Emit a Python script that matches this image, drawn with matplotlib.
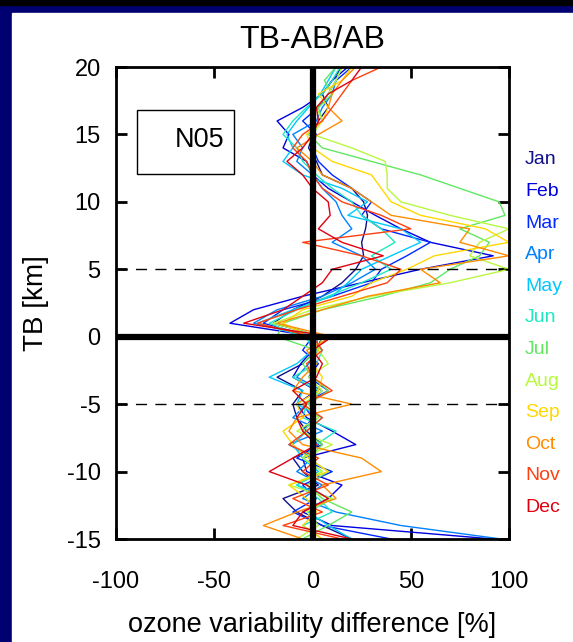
import matplotlib
matplotlib.use("Agg")
import matplotlib.pyplot as plt
from matplotlib.patches import Rectangle

plt.rcParams['font.family'] = ['Liberation Sans', 'DejaVu Sans']
plt.rcParams['axes.unicode_minus'] = False

heights = list(range(-15, 21))

months = ["Jan", "Feb", "Mar", "Apr", "May", "Jun",
          "Jul", "Aug", "Sep", "Oct", "Nov", "Dec"]
month_colors = ["#10108c", "#0000e0", "#0028ff", "#0080ff", "#00c8ff", "#20e8c0",
                "#60e860", "#b8f840", "#ffd800", "#ff8c00", "#ff4010", "#e00010"]

# ozone variability difference [%] at TB = -15 .. 20 km
jan = [20, 5, -8, -15, 3, -5, -10, 5, -3, -8, -10, -5, -18, -5, 2, 5, -20, -10,
       5, 15, 22, 26, 25, 27, 28, 26, 20, 5, 2, -2, 0, 3, 8, 5, 10, 15]
feb = [92, 10, -5, 8, 15, -3, -5, 22, 10, -3, -8, 2, -10, -6, 0, 2, -42, -30,
       -5, 25, 55, 92, 60, 45, 32, 20, 8, 0, -3, -15, -12, -18, -5, 5, 10, 18]
mar = [40, 5, -10, 2, -5, 10, -8, 3, -5, 0, -5, 8, -2, 3, -5, 0, -25, -15,
       10, 30, 35, 48, 60, 35, 25, 30, 20, 10, 3, 0, 2, -5, 3, 8, 12, 20]
apr = [96, 45, 12, -5, 5, -8, 0, -12, 5, -10, -3, 5, -8, -2, 3, 2, -30, -18,
       5, 20, 32, 25, 10, 20, 15, 12, 5, 0, -8, -5, -10, 2, 5, 10, 12, 15]
may = [20, 8, -2, 10, -8, 3, -5, -10, -3, 5, -8, -5, -22, -8, 0, -3, -28, -10,
       10, 18, 25, 40, 55, 45, 18, 28, 15, -5, -15, -10, -13, -8, -2, 4, 8, 12]
jun = [5, -5, 10, 3, -8, 5, -5, 2, 12, -5, -3, 3, -10, 2, 5, -5, -22, -8,
       8, 25, 40, 30, 42, 35, 25, 20, 10, 2, -5, -8, -15, -10, -3, 5, 10, 14]
jul = [-5, 8, 20, 5, -3, 8, -2, 5, -5, 3, -2, 8, 0, -5, 2, -18, -15, 5,
       35, 60, 70, 85, 90, 75, 98, 95, 75, 55, 30, 5, -2, 5, 3, 10, 6, 12]
aug = [-8, 3, -3, 10, -12, 5, -5, 10, -8, 3, -5, 5, -2, 8, 3, 5, -20, 0,
       30, 70, 100, 80, 85, 100, 70, 45, 38, 38, 37, 20, 0, 5, 2, 8, 12, 15]
sep = [5, -5, 2, -3, -12, 8, -2, -10, -15, -5, -8, 3, 5, 0, 3, -2, -15, -5,
       20, 30, 48, 62, 100, 88, 55, 40, 35, 30, 10, 0, -3, 5, 8, 3, 15, 20]
oct_ = [-5, -25, -8, 12, 5, 35, 25, -5, -12, -8, 20, -10, -5, 2, -3, 10, -18, 5,
        28, 65, 55, 100, 75, 80, 40, 30, 20, 5, 0, -8, 3, 15, 8, 10, 15, 22]
nov = [15, -15, 5, -10, 8, -5, 3, -12, -3, 5, -5, 10, 0, -3, 5, 0, -28, -8,
       15, 38, 45, 25, -5, 50, 35, 15, 5, 0, -3, -10, -5, 5, 10, 15, 20, 35]
dec = [20, -10, -5, 8, -3, -22, -10, 2, -5, -8, -3, -10, 2, 5, 0, 10, -35, -15,
       -5, 5, 10, 36, 15, 3, 9, 8, 0, -5, -13, -5, 0, 3, 2, 8, 20, 25]

profiles = [jan, feb, mar, apr, may, jun, jul, aug, sep, oct_, nov, dec]

fig = plt.figure(figsize=(5.73, 6.42), dpi=100, facecolor="#000070")
fig.patches.append(Rectangle((12 / 573, 0), 1, (642 - 13) / 642,
                             transform=fig.transFigure, color="white", zorder=-10))
fig.patches.append(Rectangle((0, (642 - 5) / 642), 1, 5 / 642,
                             transform=fig.transFigure, color="black", zorder=-10))

ax = fig.add_axes([116 / 573, (642 - 539) / 642, 393 / 573, 472 / 642])

for prof, col in zip(profiles, month_colors):
    ax.plot(prof, heights, color=col, lw=1.0, clip_on=True)

ax.axvline(0, color="black", lw=4.5, zorder=5)
ax.axhline(0, color="black", lw=4.5, zorder=5)
for h in [5, -5]:
    ax.axhline(h, color="black", lw=1, ls=(0, (8, 6)), zorder=5)

ax.set_xlim(-100, 100)
ax.set_ylim(-15, 20)
ax.set_xticks([-100, -50, 0, 50, 100])
ax.set_yticks([-15, -10, -5, 0, 5, 10, 15, 20])
ax.tick_params(direction="in", length=8, width=2, top=True, right=True,
               labelsize=17, pad=11)
ax.tick_params(axis="x", pad=23)
for s in ax.spines.values():
    s.set_linewidth(2)

ax.set_title("TB-AB/AB", fontsize=23, pad=14)
ax.set_xlabel("ozone variability difference [%]", fontsize=19.5, labelpad=14)
ax.set_ylabel("TB [km]", fontsize=20, labelpad=13)

ax.add_patch(Rectangle((-89.3, 12.1), 49.3, 4.7, fill=False, ec="black", lw=1, zorder=6))
ax.text(-57.5, 14.6, "N05", fontsize=19.5, ha="center", va="center", zorder=6)

for i, (m, col) in enumerate(zip(months, month_colors)):
    fig.text(525 / 573, 1 - (160 + i * 31.6) / 642, m, color=col, fontsize=14,
             ha="left", va="center")

fig.savefig("out.png", dpi=100, facecolor=fig.get_facecolor())
